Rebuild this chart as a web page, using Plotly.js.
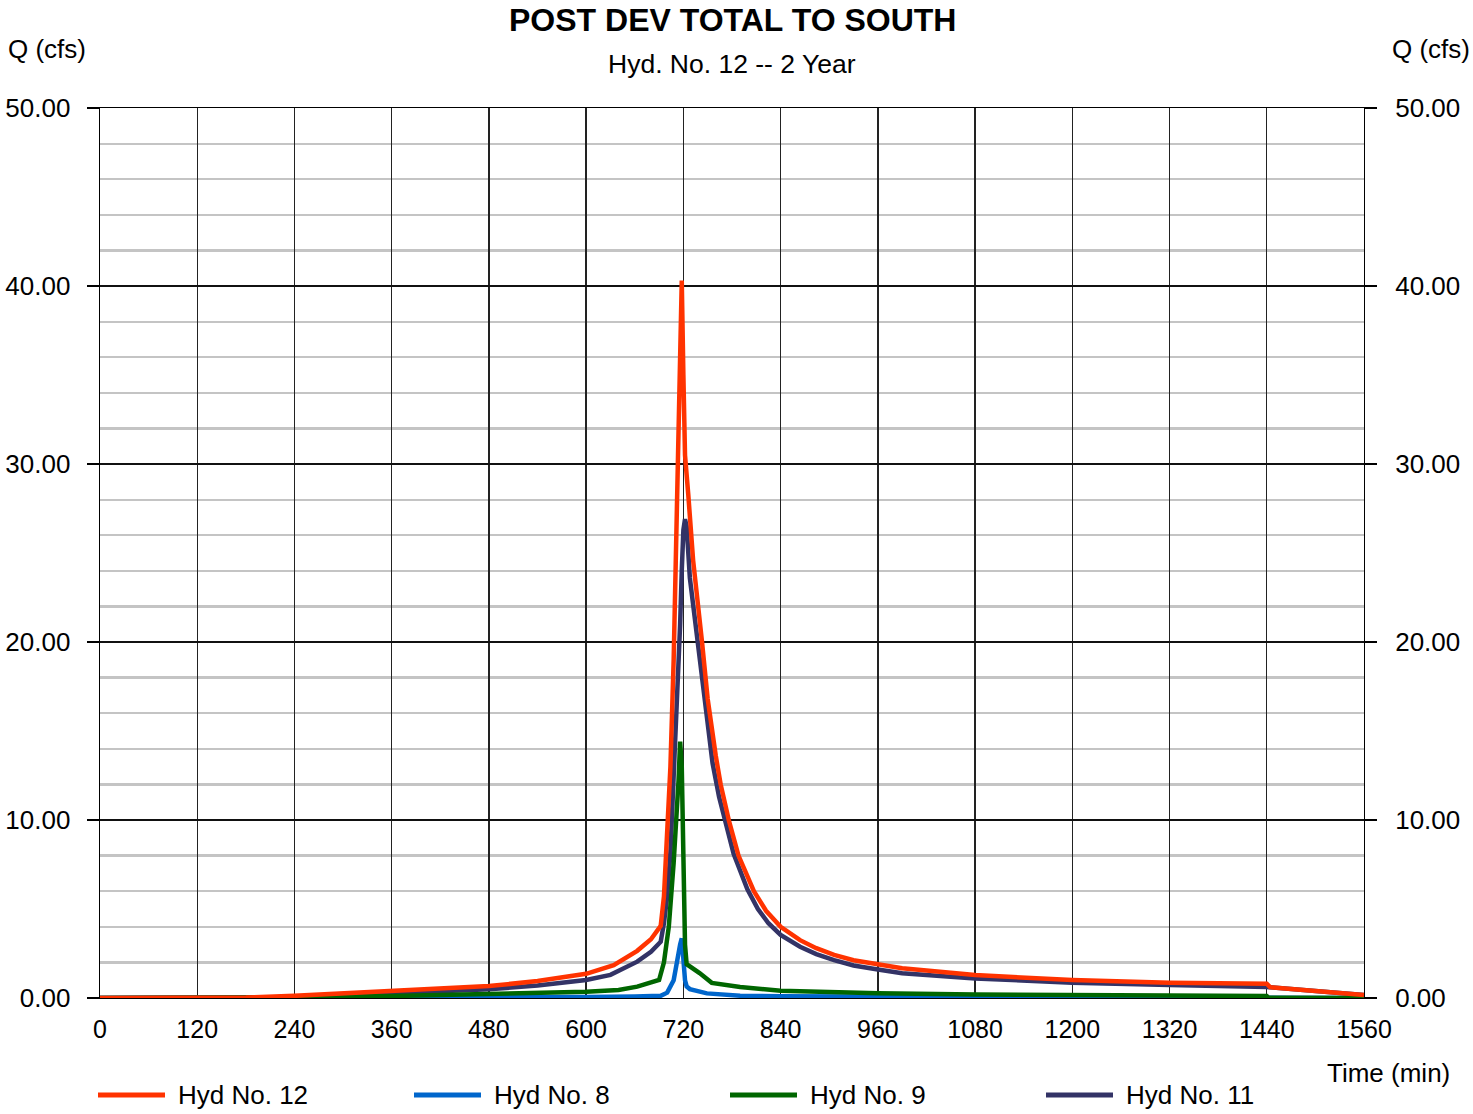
<!DOCTYPE html>
<html>
<head>
<meta charset="utf-8">
<script src="https://cdn.plot.ly/plotly-3.0.1.min.js"></script>
<style>
  html, body { margin: 0; padding: 0; background: #ffffff; }
  #chart { width: 1473px; height: 1114px; }
</style>
</head>
<body>
<div id="chart"></div>
<script>
// Hydrograph readings: time (min) and flow Q (cfs) for each hydrograph

// Hyd No. 12 - combined total to south
const time12 = [0, 120, 180, 240, 300, 360, 420, 480, 540, 600, 634, 663, 680, 692, 696, 700, 704, 708, 712, 716, 718, 720, 722, 726, 732, 743, 750, 760, 766, 776, 788, 807, 822, 840, 864, 884, 906, 930, 960, 990, 1080, 1200, 1320, 1440, 1444, 1560];
const q12    = [0, 0, 0.03, 0.12, 0.25, 0.41, 0.54, 0.67, 0.95, 1.36, 1.85, 2.65, 3.3, 4.05, 5.7, 9.3, 13.0, 19.0, 27.0, 36.5, 40.3, 35.0, 30.5, 28.3, 24.6, 20.0, 16.8, 13.6, 12.0, 10.0, 8.0, 6.0, 4.9, 4.0, 3.25, 2.8, 2.42, 2.12, 1.9, 1.67, 1.29, 1.01, 0.85, 0.8, 0.61, 0.17];

// Hyd No. 8
const time8 = [0, 360, 480, 600, 660, 692, 700, 706, 708, 712, 714, 716, 718, 720, 722, 724, 728, 749, 790, 840, 960, 1080, 1200, 1320, 1440, 1442, 1560];
const q8    = [0, 0.01, 0.03, 0.06, 0.09, 0.12, 0.3, 0.75, 1.0, 2.0, 2.6, 3.0, 3.35, 2.0, 1.0, 0.65, 0.5, 0.26, 0.13, 0.1, 0.08, 0.06, 0.05, 0.05, 0.04, 0, 0];

// Hyd No. 9
const time9 = [0, 180, 240, 360, 480, 600, 640, 663, 690, 696, 702, 708, 714, 716, 718, 720, 722, 724, 740, 755, 790, 840, 960, 1080, 1200, 1320, 1440, 1442, 1560];
const q9    = [0, 0.01, 0.03, 0.11, 0.22, 0.35, 0.45, 0.64, 1.01, 2.0, 4.0, 7.6, 12.2, 14.4, 13.0, 9.0, 3.0, 1.9, 1.4, 0.85, 0.62, 0.41, 0.27, 0.2, 0.16, 0.13, 0.11, 0.02, 0.0];

// Hyd No. 11
const time11 = [0, 180, 240, 300, 360, 420, 480, 540, 600, 630, 663, 680, 692, 696, 700, 704, 708, 712, 716, 718, 720, 722, 724, 728, 738, 742, 748, 756, 764, 771, 782, 799, 812, 825, 840, 864, 884, 906, 930, 960, 990, 1080, 1200, 1320, 1440, 1560];
const q11    = [0, 0.01, 0.05, 0.15, 0.27, 0.38, 0.49, 0.7, 1.01, 1.3, 2.04, 2.6, 3.16, 4.2, 5.7, 8.2, 12.2, 17.0, 21.0, 24.0, 26.3, 26.9, 26.5, 23.6, 20.0, 18.2, 16.2, 13.2, 11.3, 10.0, 8.1, 6.1, 5.0, 4.2, 3.54, 2.88, 2.47, 2.13, 1.83, 1.6, 1.39, 1.1, 0.86, 0.73, 0.62, 0.17];

const seriesNames  = ['Hyd No. 12', 'Hyd No. 8', 'Hyd No. 9', 'Hyd No. 11'];
const seriesColors = ['#ff3300', '#0066cc', '#006600', '#333366'];

const xTickVals = [0, 120, 240, 360, 480, 600, 720, 840, 960, 1080, 1200, 1320, 1440, 1560];
const yTickVals = [0, 10, 20, 30, 40, 50];

const FONT = 'Liberation Sans, Arial, Helvetica, sans-serif';
const LINE_W = 4.5;

function hyd(x, y, name, color) {
  return {
    type: 'scatter', mode: 'lines', x: x, y: y, name: name,
    line: { color: color, width: LINE_W },
    showlegend: false, hoverinfo: 'x+y+name'
  };
}

// drawing order: Hyd 8, Hyd 11, Hyd 9, then the total on top
const traces = [
  hyd(time8,  q8,  seriesNames[1], seriesColors[1]),
  hyd(time11, q11, seriesNames[3], seriesColors[3]),
  hyd(time9,  q9,  seriesNames[2], seriesColors[2]),
  hyd(time12, q12, seriesNames[0], seriesColors[0]),
  // empty trace that carries the right-hand Q axis
  { type: 'scatter', mode: 'lines', x: [], y: [], yaxis: 'y2', showlegend: false, hoverinfo: 'skip' }
];

// plot box in pixels (for placing the side labels and legend)
const W = 1473, H = 1114;
const M = { l: 100, r: 109, t: 108, b: 116 };
const PW = W - M.l - M.r, PH = H - M.t - M.b;
const px = v => (v - M.l) / PW;          // page x -> paper x
const py = v => (H - M.b - v) / PH;      // page y -> paper y

const TXT = 26;
const annotations = [
  { text: '<b>POST DEV TOTAL TO SOUTH</b>', x: 0.5, y: py(20), xanchor: 'center', yanchor: 'middle', font: { size: 32, color: '#000' } },
  { text: 'Hyd. No. 12 -- 2 Year', x: 0.5, y: py(64), xanchor: 'center', yanchor: 'middle', font: { size: 26.5, color: '#000' } },
  { text: 'Q (cfs)', x: px(6), y: py(49), xanchor: 'left', yanchor: 'middle', font: { size: TXT, color: '#000' } },
  { text: 'Q (cfs)', x: px(1472), y: py(49), xanchor: 'right', yanchor: 'middle', font: { size: TXT, color: '#000' } },
  { text: 'Time (min)', x: px(1452), y: py(1073), xanchor: 'right', yanchor: 'middle', font: { size: TXT, color: '#000' } }
];

// legend row: line sample + label for each hydrograph
const shapes = [];
const legendY = py(1095);
seriesNames.forEach((name, i) => {
  const x0 = 98 + i * 316;
  shapes.push({
    type: 'line', xref: 'paper', yref: 'paper',
    x0: px(x0), x1: px(x0 + 67), y0: legendY, y1: legendY,
    line: { color: seriesColors[i], width: 5 }
  });
  annotations.push({
    text: name, x: px(x0 + 78), y: legendY, xanchor: 'left', yanchor: 'middle',
    font: { size: TXT, color: '#000' }
  });
});
annotations.forEach(a => { a.xref = 'paper'; a.yref = 'paper'; a.showarrow = false; });

const layout = {
  width: W, height: H,
  margin: M,
  paper_bgcolor: '#ffffff', plot_bgcolor: '#ffffff',
  font: { family: FONT, size: TXT, color: '#000' },
  showlegend: false,
  xaxis: {
    range: [0, 1560], tickmode: 'array', tickvals: xTickVals, ticktext: xTickVals.map(String),
    ticks: '', showgrid: true, gridcolor: '#222222', gridwidth: 1.4,
    zeroline: false, showline: true, linecolor: '#000', linewidth: 1.4, mirror: true,
    tickfont: { size: 25 }, ticklabelstandoff: 9, fixedrange: true
  },
  yaxis: {
    range: [0, 50], tickmode: 'array', tickvals: yTickVals, ticktext: yTickVals.map(v => v.toFixed(2)),
    ticks: 'outside', ticklen: 12, tickcolor: '#000', tickwidth: 1.4,
    showgrid: true, gridcolor: '#111111', gridwidth: 1.4,
    minor: { dtick: 2, showgrid: true, gridcolor: '#c4c4c4', gridwidth: 2.2, ticks: '' },
    zeroline: false, showline: true, linecolor: '#000', linewidth: 1.4, mirror: true,
    tickfont: { size: 26 }, ticklabelstandoff: 11, fixedrange: true
  },
  yaxis2: {
    range: [0, 50], overlaying: 'y', side: 'right',
    tickmode: 'array', tickvals: yTickVals, ticktext: yTickVals.map(v => v.toFixed(2)),
    ticks: 'outside', ticklen: 12, tickcolor: '#000', tickwidth: 1.4,
    showgrid: false, zeroline: false, showline: false,
    tickfont: { size: 26 }, ticklabelstandoff: 13, fixedrange: true
  },
  annotations: annotations,
  shapes: shapes
};

Plotly.newPlot('chart', traces, layout, { displayModeBar: false, staticPlot: true });
</script>
</body>
</html>
